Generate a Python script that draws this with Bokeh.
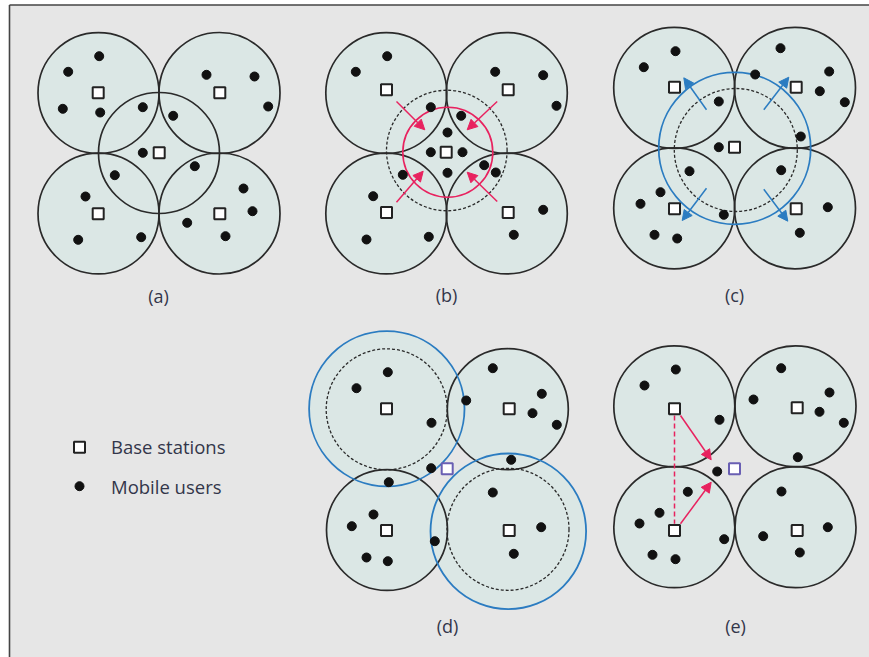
from bokeh.plotting import figure
from bokeh.models import Range1d, ColumnDataSource, Arrow, NormalHead
from bokeh.core.properties import value
from bokeh.embed import file_html
from bokeh.resources import INLINE

# ---------------- data (image-pixel coordinates) ----------------
cell_r = 60.5

# panel (a)
a_cell_x = [98, 219, 98, 219, 158.5]
a_cell_y = [92.5, 92.5, 213, 213, 152.5]
a_bs_x = [97.7, 219.3, 158.7, 97.7, 219.3]
a_bs_y = [92.3, 92.3, 152.3, 213.3, 213.3]
a_user_x = [98.7, 67.7, 62.3, 99.7, 142.3, 172.7, 206, 254, 267.7, 142.3,
            114.3, 194.3, 243, 252, 186.7, 225, 85, 77.7, 140.7]
a_user_y = [55.7, 71.3, 108.3, 112, 106.7, 115.3, 74.3, 76, 106, 152.3,
            174.7, 165.7, 188, 210.7, 222.3, 235.7, 196, 239.3, 236.7]

# panel (b)
b_cell_x = [385.8, 506.3, 385.8, 506.3]
b_cell_y = [92.5, 92.5, 213, 213]
b_bs_x = [386, 507.7, 445.7, 386, 507.7]
b_bs_y = [89.3, 89.3, 151.7, 212, 212]
b_dash_x, b_dash_y, b_dash_r = [446.3], [150], [60.3]
b_red_x, b_red_y, b_red_r = [447.3], [151.7], [45]
b_arrow_x0 = [396, 496.7, 396, 496.7]
b_arrow_y0 = [101, 101, 201.7, 201]
b_arrow_x1 = [424.3, 466.7, 422.7, 466.7]
b_arrow_y1 = [129.3, 129.3, 170.7, 171.7]
b_user_x = [386.7, 355.3, 430.3, 460.7, 494.7, 542.7, 556, 447, 430.3, 462,
            447, 402.3, 483.7, 495.3, 372.7, 542.7, 513.3, 366, 428.3]
b_user_y = [55.7, 71.3, 106.7, 115.3, 71.3, 74.7, 105.3, 132, 151.7, 151.7,
            172.3, 174.3, 164.7, 172, 195.7, 209.3, 234.3, 239, 236.3]

# panel (c)
c_cell_x = [673.7, 794.5, 673.7, 794.5]
c_cell_y = [87.3, 87.3, 207.8, 207.8]
c_bs_x = [674, 795.7, 734, 674, 795.7]
c_bs_y = [86.7, 86.7, 146.7, 208.3, 208.3]
c_blue_x, c_blue_y, c_blue_r = [734.2], [147.8], [76]
c_dash_x, c_dash_y, c_dash_r = [735.3], [149.5], [61.5]
c_arrow_x0 = [706, 763.3, 706, 763.3]
c_arrow_y0 = [109.3, 109.3, 187.7, 188.7]
c_arrow_x1 = [683.3, 788.3, 681.7, 787.3]
c_arrow_y1 = [77.3, 76.7, 220, 220.7]
c_user_x = [675, 643.3, 718.3, 780, 754.7, 828.7, 819.3, 844.3, 800.3, 718.3,
            689, 780.7, 660, 640, 723.3, 827.3, 654, 676.7, 799.3]
c_user_y = [50.7, 66.7, 101, 47.7, 74, 71, 90.7, 101.7, 136, 146.7,
            170.7, 169.7, 191.7, 203.3, 214.3, 206.7, 234.3, 238, 232.3]

# panel (d)
d_cell_x = [507.3, 386.5]
d_cell_y = [408.7, 529.5]
d_blue_x, d_blue_y, d_blue_r = [386.3, 507.8], [408.2, 530.8], [77.7, 77.8]
d_dash_x, d_dash_y, d_dash_r = [386.2, 507.5], [408.8, 528.8], [60.5, 61]
d_bs_x = [386, 508.7, 386, 508.7]
d_bs_y = [408.3, 408.3, 530, 530]
d_new_x, d_new_y = [446.7], [468.3]
d_user_x = [387.3, 356, 431, 430.7, 388.3, 492.3, 465.7, 541.3, 532, 556.3,
            510.7, 492.3, 540.7, 513.3, 434.3, 373, 351.3, 366, 387.3]
d_user_y = [371.7, 387.7, 422.3, 467.7, 481.7, 367.7, 400, 393.3, 412.7, 424.3,
            459.3, 492, 526.7, 553.3, 540.7, 514, 525.7, 557, 560.7]

# panel (e)
e_cell_x = [673.8, 795, 673.8, 795]
e_cell_y = [405.8, 405.8, 526.7, 526.7]
e_bs_x = [674, 796.7, 674, 796.7]
e_bs_y = [408.3, 407.3, 530, 530]
e_new_x, e_new_y = [734], [468.3]
e_link_x0, e_link_y0, e_link_x1, e_link_y1 = [674], [415], [674], [523.3]
e_arrow_x0 = [680, 680]
e_arrow_y0 = [415, 523.3]
e_arrow_x1 = [710.7, 710.7]
e_arrow_y1 = [459.3, 481.7]
e_user_x = [675.3, 644, 719, 716.7, 780.7, 753, 829, 819, 843.3, 797.3,
            687.3, 659, 639, 652, 675, 723.7, 781, 762.7, 827.3, 799.3]
e_user_y = [369, 385, 419.3, 471, 367.7, 399, 392, 411.3, 422.3, 456.7,
            491.3, 512.3, 523, 554.3, 558.7, 538.7, 491, 535.7, 526.7, 552]

# labels
panel_labels = ["(a)", "(b)", "(c)", "(d)", "(e)"]
label_x = [158, 446, 734, 447, 735]
label_y = [295, 294.5, 294.5, 625, 625]
legend_labels = ["Base stations", "Mobile users"]
legend_x = [110.5, 110.5]
legend_y = [446, 485.5]
legend_bs_x, legend_bs_y = [79], [446.7]
legend_user_x, legend_user_y = [79], [485.7]

# ---------------- styles ----------------
BG = "#e6e6e6"
CELL_FILL = "#dbe7e5"
DARK = "#2a2a2a"
RED = "#e8225f"
BLUE = "#2b7cc1"
PURPLE = "#6a5fb3"
TEXT = "#33364a"

W, H = 869, 657
p = figure(width=W, height=H, output_backend="svg", toolbar_location=None,
           x_range=Range1d(0, W), y_range=Range1d(H, 0),
           min_border=0, min_border_left=0, min_border_right=0,
           min_border_top=0, min_border_bottom=0)
p.axis.visible = False
p.xgrid.visible = False
p.ygrid.visible = False
p.outline_line_color = None
p.background_fill_color = "white"
p.border_fill_color = "white"

# gray panel with top and left frame lines
p.quad(left=[9], right=[W + 2], top=[4.5], bottom=[H + 2],
       fill_color=BG, line_color=None)
p.segment(x0=[9, 9], y0=[4.5, 4.5], x1=[9, W + 2], y1=[H + 2, 4.5],
          line_color="#444444", line_width=1.6)

# ---- fills ----
fill_x = a_cell_x + b_cell_x + b_dash_x + c_cell_x + c_blue_x + d_cell_x + d_blue_x + e_cell_x
fill_y = a_cell_y + b_cell_y + b_dash_y + c_cell_y + c_blue_y + d_cell_y + d_blue_y + e_cell_y
fill_r = ([cell_r] * 5 + [cell_r] * 4 + b_dash_r + [cell_r] * 4 + c_blue_r +
          [cell_r] * 2 + d_blue_r + [cell_r] * 4)
p.circle(x=fill_x, y=fill_y, radius=fill_r, fill_color=CELL_FILL, line_color=None)

# ---- solid black outlines ----
ol_x = a_cell_x + b_cell_x + c_cell_x + d_cell_x + e_cell_x
ol_y = a_cell_y + b_cell_y + c_cell_y + d_cell_y + e_cell_y
p.circle(x=ol_x, y=ol_y, radius=cell_r, fill_color=None,
         line_color=DARK, line_width=1.7)

# ---- dashed circles ----
p.circle(x=b_dash_x + c_dash_x + d_dash_x, y=b_dash_y + c_dash_y + d_dash_y,
         radius=b_dash_r + c_dash_r + d_dash_r, fill_color=None,
         line_color=DARK, line_width=1.3, line_dash="3 2")

# ---- coloured circles ----
p.circle(x=b_red_x, y=b_red_y, radius=b_red_r, fill_color=None,
         line_color=RED, line_width=1.6)
p.circle(x=c_blue_x + d_blue_x, y=c_blue_y + d_blue_y, radius=c_blue_r + d_blue_r,
         fill_color=None, line_color=BLUE, line_width=1.8)

# ---- arrows ----
def add_arrows(x0, y0, x1, y1, color):
    src = ColumnDataSource(dict(x0=x0, y0=y0, x1=x1, y1=y1))
    p.add_layout(Arrow(end=NormalHead(size=10, fill_color=color, line_color=color),
                       x_start="x0", y_start="y0", x_end="x1", y_end="y1",
                       source=src, line_color=color, line_width=1.5))

add_arrows(b_arrow_x0, b_arrow_y0, b_arrow_x1, b_arrow_y1, RED)
add_arrows(c_arrow_x0, c_arrow_y0, c_arrow_x1, c_arrow_y1, BLUE)
p.segment(x0=e_link_x0, y0=e_link_y0, x1=e_link_x1, y1=e_link_y1,
          line_color=RED, line_width=1.5, line_dash="5 3")
add_arrows(e_arrow_x0, e_arrow_y0, e_arrow_x1, e_arrow_y1, RED)

# ---- mobile users ----
ux = a_user_x + b_user_x + c_user_x + d_user_x + e_user_x + legend_user_x
uy = a_user_y + b_user_y + c_user_y + d_user_y + e_user_y + legend_user_y
p.scatter(x=ux, y=uy, marker="circle", size=9, fill_color="#111111",
          line_color="#111111")

# ---- base stations ----
bx = a_bs_x + b_bs_x + c_bs_x + d_bs_x + e_bs_x + legend_bs_x
by = a_bs_y + b_bs_y + c_bs_y + d_bs_y + e_bs_y + legend_bs_y
p.scatter(x=bx, y=by, marker="square", size=11, fill_color="white",
          line_color="#222222", line_width=2)
p.scatter(x=d_new_x + e_new_x, y=d_new_y + e_new_y, marker="square", size=11,
          fill_color="white", line_color=PURPLE, line_width=2)

# ---- texts ----
p.text(x=label_x, y=label_y, text=panel_labels, text_font=value("Open Sans"),
       text_font_size="18px", text_color=TEXT, text_align="center",
       text_baseline="middle")
p.text(x=legend_x, y=legend_y, text=legend_labels, text_font=value("Open Sans"),
       text_font_size="18.5px", text_color=TEXT, text_align="left",
       text_baseline="middle")

open("out.html", "w").write(file_html(p, INLINE))
